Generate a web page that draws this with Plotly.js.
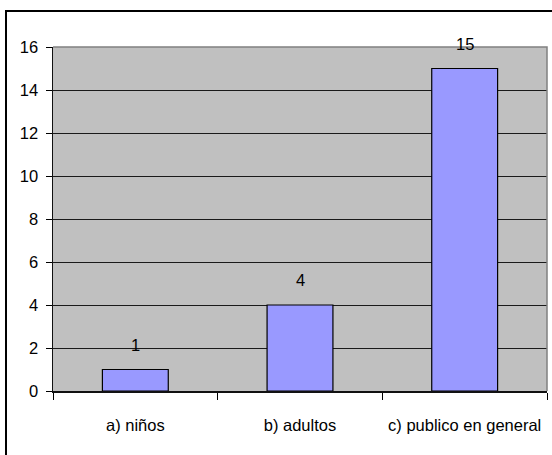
<!DOCTYPE html>
<html>
<head>
<meta charset="utf-8">
<script src="https://cdn.plot.ly/plotly-3.0.1.min.js"></script>
<style>
  html, body { margin:0; padding:0; background:#fff; overflow:hidden; width:552px; height:455px; }
  #frame { position:absolute; left:5px; top:10px; width:700px; height:600px; border-left:2px solid #000; border-top:2px solid #000; box-sizing:border-box; }
  #chart { position:absolute; left:0; top:0; width:552px; height:455px; }
</style>
</head>
<body>
<div id="frame"></div>
<div id="chart"></div>
<script>
const categories = ["a) niños", "b) adultos", "c) publico en general"];
const values = [1, 4, 15];
const yTicks = [0, 2, 4, 6, 8, 10, 12, 14, 16];

const font = {family: "Liberation Sans, Arial, sans-serif", size: 16.5, color: "#000"};

const trace = {
  type: "bar",
  x: categories,
  y: values,
  marker: {color: "#9999FF", line: {color: "#000", width: 1.2}},
  hoverinfo: "none"
};

const annotations = categories.map((c, i) => ({
  x: c, y: values[i], xref: "x", yref: "y",
  text: String(values[i]), showarrow: false,
  yanchor: "middle", yshift: 25, font: font
}));

const layout = {
  width: 552, height: 455,
  margin: {l: 53, r: 5, t: 47, b: 64, pad: 0},
  paper_bgcolor: "rgba(0,0,0,0)",
  plot_bgcolor: "#C0C0C0",
  font: font,
  bargap: 0.6,
  showlegend: false,
  xaxis: {
    type: "category",
    tickson: "boundaries",
    ticks: "outside", ticklen: 7, tickcolor: "#000", tickwidth: 1,
    showline: true, linecolor: "#111", linewidth: 1.5,
    showgrid: false, zeroline: false,
    ticklabelstandoff: 19,
    tickfont: font
  },
  yaxis: {
    range: [0, 16],
    tickvals: yTicks,
    ticktext: yTicks.map(String),
    ticks: "outside", ticklen: 6, tickcolor: "#000", tickwidth: 1,
    showline: true, linecolor: "#111", linewidth: 1.5,
    showgrid: true, gridcolor: "#1a1a1a", gridwidth: 1,
    zeroline: false,
    ticklabelstandoff: 4,
    tickfont: font
  },
  shapes: [
    {type: "path", xref: "paper", yref: "paper", layer: "above",
     path: "M 0 1 L 1 1 L 1 0", line: {color: "#808080", width: 1.5}}
  ],
  annotations: annotations
};

Plotly.newPlot("chart", [trace], layout, {staticPlot: true, displayModeBar: false});
</script>
</body>
</html>
